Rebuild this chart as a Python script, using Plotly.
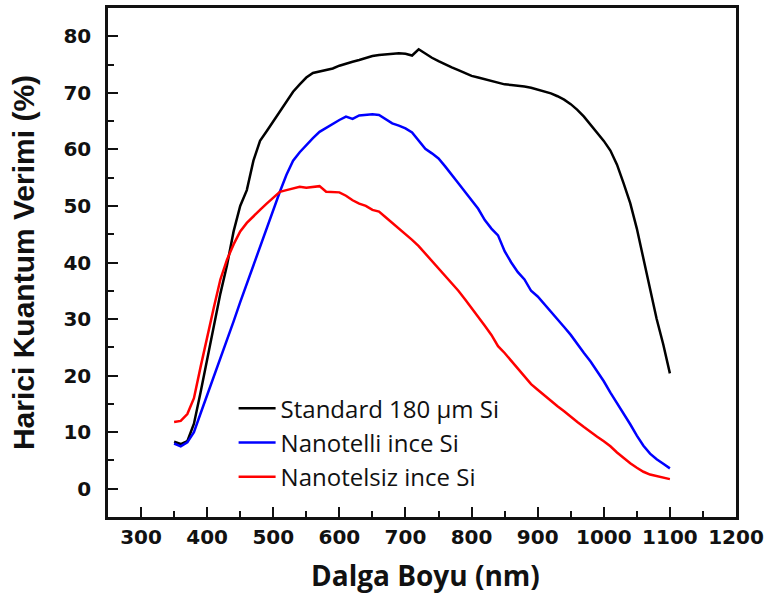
import plotly.graph_objects as go

wavelength = [350, 360, 370, 380, 390, 400, 410, 420, 430, 440, 450, 460, 470, 480, 490,
              500, 510, 520, 530, 540, 550, 560, 570, 580, 590, 600, 610, 620, 630, 640,
              650, 660, 670, 680, 690, 700, 710, 720, 730, 740, 750, 760, 770, 780, 790,
              800, 810, 820, 830, 840, 850, 860, 870, 880, 890, 900, 910, 920, 930, 940,
              950, 960, 970, 980, 990, 1000, 1010, 1020, 1030, 1040, 1050, 1060, 1070,
              1080, 1090, 1100]

standard_si = [8.3, 7.9, 8.4, 11.5, 17.0, 23.0, 29.0, 34.5, 39.5, 45.5, 50.0, 52.8, 58.0,
               61.5, 63.2, 65.0, 66.8, 68.5, 70.2, 71.5, 72.7, 73.5, 73.8, 74.0, 74.3, 74.8,
               75.2, 75.5, 75.8, 76.2, 76.5, 76.7, 76.8, 76.9, 77.0, 76.9, 76.6, 77.7, 76.9,
               76.2, 75.6, 75.0, 74.5, 74.0, 73.5, 73.0, 72.7, 72.4, 72.2, 71.9, 71.5, 71.4,
               71.3, 71.1, 70.9, 70.6, 70.3, 69.9, 69.4, 68.8, 68.0, 67.0, 65.8, 64.4, 62.9,
               61.5, 59.8, 57.3, 54.0, 50.5, 46.0, 40.5, 35.0, 30.0, 25.5, 20.4]

nanotelli_si = [8.0, 7.5, 8.2, 10.0, 13.3, 16.5, 19.8, 23.0, 26.3, 29.6, 33.0, 36.3, 39.6,
                42.9, 46.0, 49.2, 52.5, 55.5, 58.0, 59.5, 60.8, 62.0, 63.1, 63.8, 64.6, 65.2,
                65.8, 65.4, 66.0, 66.1, 66.2, 66.1, 65.3, 64.6, 64.2, 63.7, 63.0, 61.5, 60.1,
                59.3, 58.4, 57.0, 55.6, 54.0, 52.5, 51.0, 49.5, 47.5, 46.0, 44.8, 42.0, 40.0,
                38.3, 37.0, 35.0, 34.0, 32.7, 31.3, 30.0, 28.6, 27.2, 25.5, 24.0, 22.5, 20.8,
                19.0, 17.0, 15.2, 13.3, 11.4, 9.4, 7.6, 6.2, 5.2, 4.4, 3.6]

nanotelsiz_si = [11.8, 12.0, 13.2, 16.0, 21.5, 27.0, 32.0, 37.0, 40.5, 43.2, 45.5, 47.0, 48.2,
                 49.3, 50.4, 51.5, 52.5, 52.8, 53.1, 53.4, 53.2, 53.3, 53.5, 52.5, 52.4, 52.4,
                 51.8, 51.0, 50.4, 50.0, 49.3, 49.0, 48.0, 47.0, 46.1, 45.0, 44.0, 42.9, 41.6,
                 40.3, 39.0, 37.7, 36.3, 35.0, 33.5, 32.0, 30.4, 28.8, 27.2, 25.2, 24.0, 22.6,
                 21.2, 19.8, 18.5, 17.5, 16.5, 15.5, 14.6, 13.7, 12.7, 11.8, 10.9, 10.0, 9.2,
                 8.4, 7.5, 6.4, 5.4, 4.5, 3.7, 3.0, 2.5, 2.2, 1.9, 1.7]

series_names = ["Standard 180 µm Si", "Nanotelli ince Si", "Nanotelsiz ince Si"]
series_colors = ["#000000", "#0000ff", "#ff0000"]
x_title = "Dalga Boyu (nm)"
y_title = "Harici Kuantum Verimi (%)"

fig = go.Figure()
for name, vals, col in zip(series_names, [standard_si, nanotelli_si, nanotelsiz_si], series_colors):
    fig.add_trace(go.Scatter(x=wavelength, y=vals, mode="lines", name=name,
                             line=dict(color=col, width=2.5)))

tick_font = dict(family="DejaVu Sans", size=20, color="#111", weight="bold")

fig.update_layout(
    width=769, height=610,
    margin=dict(l=108, r=30, t=5, b=93),
    paper_bgcolor="white", plot_bgcolor="white",
    showlegend=True,
    legend=dict(x=0.2, y=0.257, xanchor="left", yanchor="top",
                font=dict(family="Open Sans", size=24, color="#111"),
                bgcolor="rgba(0,0,0,0)", itemwidth=37, tracegroupgap=0),
    annotations=[dict(text=x_title, xref="paper", yref="paper", x=0.506, y=-0.073,
                      xanchor="center", yanchor="top", showarrow=False,
                      font=dict(family="Open Sans", size=28, color="#111", weight="bold"))],
)
fig.update_xaxes(
    range=[250, 1200], tick0=300, dtick=100,
    showline=True, linecolor="#111", linewidth=2.5, mirror=True,
    ticks="inside", ticklen=10, tickwidth=2, tickcolor="#111",
    minor=dict(ticks="inside", ticklen=6, tickwidth=2, tickcolor="#111", dtick=50, tick0=250),
    showgrid=False, zeroline=False,
    tickfont=tick_font, ticklabelstandoff=0,
)
fig.update_yaxes(
    range=[-5, 85], tick0=0, dtick=10,
    showline=True, linecolor="#111", linewidth=2.5, mirror=True,
    ticks="inside", ticklen=10, tickwidth=2, tickcolor="#111",
    minor=dict(ticks="inside", ticklen=6, tickwidth=2, tickcolor="#111", dtick=5, tick0=-5),
    showgrid=False, zeroline=False,
    tickfont=tick_font, ticklabelstandoff=10,
    title=dict(text=y_title, font=dict(family="Liberation Sans", size=30, color="#111", weight="bold"),
               standoff=20),
)

fig.write_html("out.html")
